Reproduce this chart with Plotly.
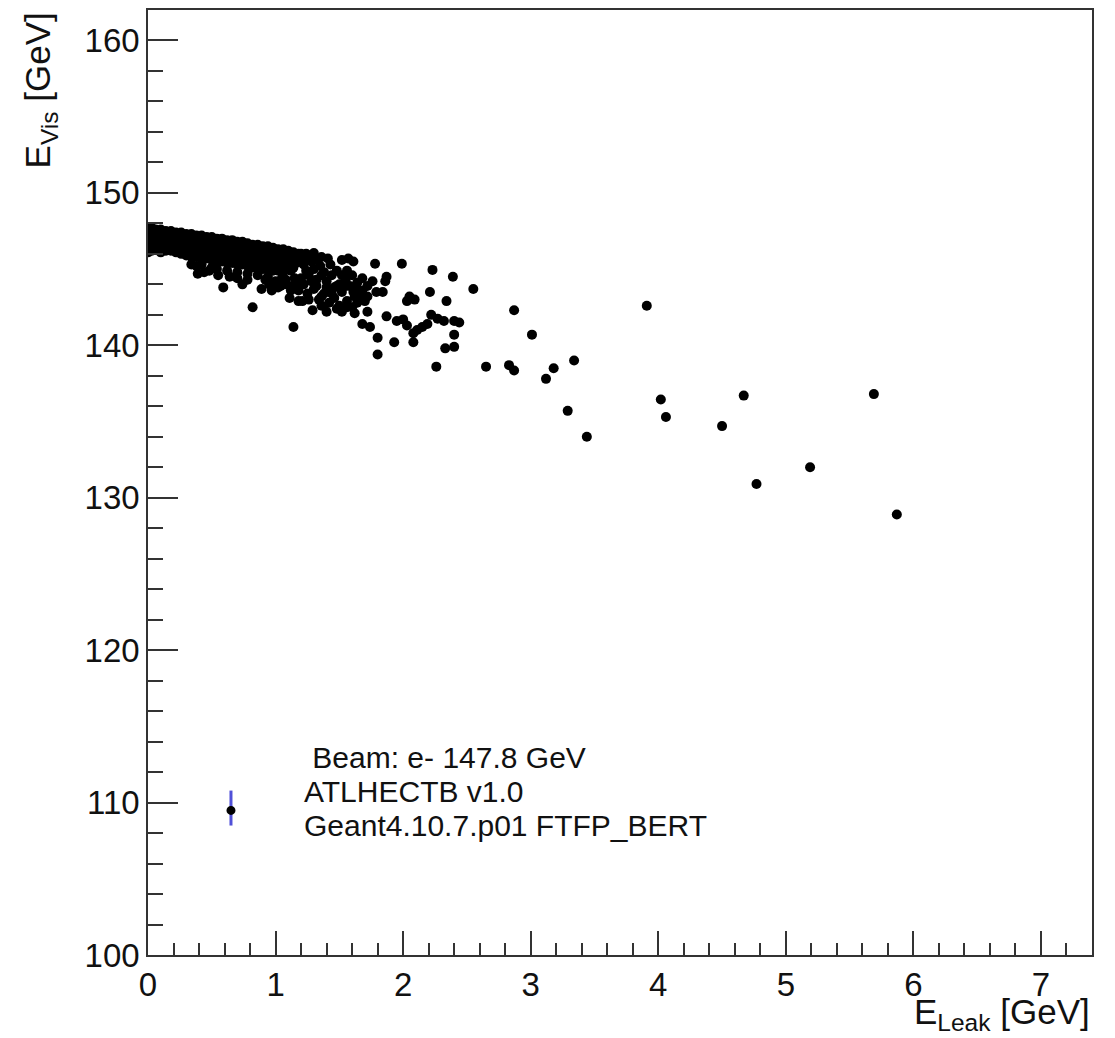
import plotly.graph_objects as go

# ---- data: dense core (E_Leak, E_Vis) ----
core_x = [
    0.00, 0.00, 0.00, 0.00, 0.00,
    0.03, 0.03, 0.03, 0.03, 0.03,
    0.06, 0.06, 0.06, 0.06,
    0.10, 0.10, 0.10, 0.10, 0.10,
    0.14, 0.14, 0.14, 0.14,
    0.18, 0.18, 0.18, 0.18,
    0.22, 0.22, 0.22, 0.22,
    0.26, 0.26, 0.26, 0.26,
    0.30, 0.30, 0.30, 0.30,
    0.34, 0.34, 0.34, 0.34, 0.34,
    0.38, 0.38, 0.38, 0.38, 0.38,
    0.42, 0.42, 0.42, 0.42, 0.42,
    0.46, 0.46, 0.46, 0.46,
    0.50, 0.50, 0.50, 0.50, 0.50,
    0.54, 0.54, 0.54, 0.54, 0.54,
    0.58, 0.58, 0.58, 0.58,
    0.62, 0.62, 0.62, 0.62, 0.62,
    0.66, 0.66, 0.66, 0.66,
    0.70, 0.70, 0.70, 0.70, 0.70,
    0.74, 0.74, 0.74, 0.74,
    0.78, 0.78, 0.78, 0.78, 0.78,
    0.82, 0.82, 0.82, 0.82,
    0.86, 0.86, 0.86, 0.86, 0.86,
    0.90, 0.90, 0.90, 0.90,
    0.94, 0.94, 0.94, 0.94, 0.94,
    0.98, 0.98, 0.98, 0.98,
    1.02, 1.02, 1.02, 1.02,
    1.06, 1.06, 1.06, 1.06,
    1.10, 1.10, 1.10,
    1.14, 1.14, 1.14,
    1.18, 1.18,
    1.22, 1.22,
]
core_y = [
    147.65, 147.2, 146.8, 146.4, 146.1,
    147.7, 147.3, 146.9, 146.5, 146.2,
    147.6, 147.1, 146.7, 146.3,
    147.6, 147.2, 146.8, 146.4, 146.1,
    147.5, 147.1, 146.6, 146.2,
    147.5, 147.0, 146.6, 146.2,
    147.4, 147.0, 146.5, 146.1,
    147.4, 146.9, 146.4, 146.0,
    147.3, 146.9, 146.4, 145.9,
    147.3, 146.8, 146.3, 145.8, 145.3,
    147.2, 146.8, 146.3, 145.8, 145.2,
    147.2, 146.7, 146.2, 145.7, 145.3,
    147.1, 146.7, 146.2, 145.7,
    147.1, 146.6, 146.1, 145.6, 145.1,
    147.0, 146.5, 146.0, 145.5, 145.0,
    147.0, 146.5, 146.0, 145.5,
    146.9, 146.4, 145.9, 145.4, 144.9,
    146.9, 146.4, 145.9, 145.4,
    146.8, 146.3, 145.8, 145.3, 144.8,
    146.8, 146.3, 145.8, 145.3,
    146.7, 146.2, 145.7, 145.2, 144.7,
    146.6, 146.1, 145.6, 145.1,
    146.6, 146.1, 145.6, 145.1, 144.6,
    146.5, 146.0, 145.5, 145.0,
    146.5, 146.0, 145.5, 145.0, 144.5,
    146.4, 145.9, 145.4, 144.9,
    146.3, 145.9, 145.4, 144.9,
    146.3, 145.8, 145.3, 144.8,
    146.2, 145.7, 145.2,
    146.1, 145.6, 145.1,
    146.0, 145.5,
    145.9, 145.4,
]

# ---- data: transition cloud 1.0 - 1.8 GeV ----
cloud_x = [1.20, 1.25, 1.22, 1.28, 1.30, 1.26, 1.32, 1.35, 1.38, 1.40, 1.44, 1.46,
           1.48, 1.52, 1.55, 1.58, 1.62, 1.64, 1.68, 1.70, 1.22, 1.25, 1.30, 1.34,
           1.38, 1.42, 1.46, 1.50, 1.56, 1.60, 1.18, 1.15, 1.12, 1.16, 1.10, 1.08,
           1.05, 1.13, 1.33, 1.43,
           1.05, 1.08, 1.12, 1.15, 1.20, 1.24, 1.28, 1.32, 1.36, 1.30,
           1.00, 1.04, 1.08, 1.12, 1.16, 1.20, 1.24, 1.28, 1.32, 1.36,
           1.40, 1.44, 1.48, 1.52, 1.56, 1.60, 1.64, 1.68, 1.72, 1.76,
           1.48, 1.56, 1.64, 1.72, 1.36, 1.26, 1.18, 0.95, 0.97, 0.92,
           0.78, 0.70, 0.64, 0.55, 0.48, 0.44]
cloud_y = [146.0, 145.8, 145.3, 145.5, 145.0, 144.6, 144.3, 145.2, 144.8, 144.2, 144.6, 143.8,
           144.9, 143.5, 144.3, 143.9, 143.2, 144.1, 143.6, 142.9, 144.0, 143.4, 143.7, 143.0,
           143.4, 142.8, 143.1, 142.6, 142.9, 142.5, 143.6, 144.4, 144.9, 145.4, 145.0, 144.3,
           144.4, 143.9, 145.6, 145.3,
           145.9, 145.5, 146.0, 145.8, 145.6, 146.0, 145.9, 145.6, 145.8, 146.05,
           144.2, 143.9, 144.0, 143.6, 143.9, 144.4, 144.9, 144.2, 143.9, 144.6,
           143.8, 143.4, 143.9, 144.6, 144.9, 144.6, 143.6, 144.4, 143.9, 144.2,
           142.4, 142.5, 142.8, 143.2, 142.6, 143.0, 142.9, 144.0, 143.6, 144.3,
           144.3, 144.4, 144.5, 144.6, 144.9, 144.8]

# ---- data: sparse events ----
tail_x = [0.39, 0.59, 0.74, 0.82, 0.89, 1.02, 1.11, 1.14, 1.21, 1.29, 1.36, 1.40,
          1.41, 1.52, 1.57, 1.61, 1.52, 1.62, 1.50, 1.55, 1.61, 1.66, 1.72, 1.78,
          1.79, 1.84, 1.87, 1.86, 1.99, 2.03, 2.05, 2.09, 2.23, 2.21, 2.34, 2.39,
          2.55, 1.68, 1.74, 1.80, 1.80, 1.87, 1.95, 2.00, 2.03, 1.93, 2.08, 2.11,
          2.15, 2.19, 2.08, 2.22, 2.27, 2.32, 2.40, 2.44, 2.40, 2.40, 2.33, 2.26,
          2.65, 2.87, 3.01, 2.83, 2.87, 3.18, 3.12, 3.34, 3.29, 3.44, 3.91, 4.02,
          4.06, 4.50, 4.67, 4.77, 5.19, 5.69, 5.87]
tail_y = [144.7, 143.8, 144.0, 142.5, 143.7, 143.8, 143.1, 141.2, 142.9, 142.3, 143.2, 142.2,
          145.7, 145.6, 145.7, 145.5, 142.2, 142.1, 144.0, 143.9, 143.5, 143.3, 142.2, 145.35,
          143.5, 143.5, 144.5, 144.2, 145.35, 142.9, 143.2, 143.0, 144.95, 143.5, 142.9, 144.5,
          143.7, 141.4, 141.2, 140.5, 139.4, 141.9, 141.6, 141.7, 141.3, 140.2, 140.8, 141.0,
          141.2, 141.4, 140.2, 142.0, 141.75, 141.6, 141.6, 141.5, 140.7, 139.9, 139.8, 138.6,
          138.6, 142.3, 140.7, 138.7, 138.35, 138.5, 137.8, 139.0, 135.7, 134.0, 142.6, 136.45,
          135.3, 134.7, 136.7, 130.9, 132.0, 136.8, 128.9]

legend_lines = ["\u00a0Beam: e- 147.8 GeV", "ATLHECTB v1.0", "Geant4.10.7.p01 FTFP_BERT"]

FONT = "Liberation Sans, Arial, Helvetica, sans-serif"

fig = go.Figure()
for xs, ys in [(core_x, core_y), (cloud_x, cloud_y), (tail_x, tail_y)]:
    fig.add_trace(go.Scatter(x=xs, y=ys, mode="markers",
                             marker=dict(color="black", size=10, line=dict(width=0)),
                             showlegend=False, hoverinfo="x+y"))

axis_common = dict(showline=True, linecolor="#333333", linewidth=1.5, mirror=True,
                   ticks="inside", tickcolor="#333333", tickwidth=1.5,
                   showgrid=False, zeroline=False,
                   tickfont=dict(family=FONT, size=33, color="#111111"))

fig.update_xaxes(range=[0, 7.4], dtick=1, tick0=0, ticklen=24,
                 minor=dict(ticks="inside", dtick=0.2, ticklen=12, tickcolor="#333333", tickwidth=1.5),
                 **axis_common)
fig.update_yaxes(range=[100, 162], dtick=10, tick0=100, ticklen=30,
                 minor=dict(ticks="inside", dtick=2, ticklen=15, tickcolor="#333333", tickwidth=1.5),
                 **axis_common)

ann = []
ann.append(dict(text="E<sub>Vis</sub> [GeV]", xref="paper", yref="paper", x=-0.114, y=1.0,
                xanchor="center", yanchor="top", textangle=-90, showarrow=False,
                font=dict(family=FONT, size=35, color="#111111")))
ann.append(dict(text="E<sub>Leak</sub> [GeV]", xref="paper", yref="paper", x=1.0, y=-0.062,
                xanchor="right", yanchor="middle", showarrow=False,
                font=dict(family=FONT, size=35, color="#111111")))
for txt, yp in zip(legend_lines, [0.209, 0.173, 0.137]):
    ann.append(dict(text=txt, xref="paper", yref="paper", x=0.163, y=yp,
                    xanchor="left", yanchor="middle", showarrow=False,
                    font=dict(family=FONT, size=30, color="#111111")))

shapes = [
    dict(type="line", xref="paper", yref="paper", x0=0.0879, x1=0.0879, y0=0.137, y1=0.174,
         line=dict(color="#5050d8", width=3)),
    dict(type="circle", xref="paper", yref="paper", xsizemode="pixel", ysizemode="pixel",
         xanchor=0.0879, yanchor=0.153, x0=-4.5, x1=4.5, y0=-4.5, y1=4.5,
         fillcolor="black", line=dict(width=0)),
]

fig.update_layout(width=1115, height=1038, margin=dict(l=148, r=23, t=8, b=83),
                  paper_bgcolor="white", plot_bgcolor="white",
                  annotations=ann, shapes=shapes, showlegend=False,
                  font=dict(family=FONT))

fig.write_html("out.html")
